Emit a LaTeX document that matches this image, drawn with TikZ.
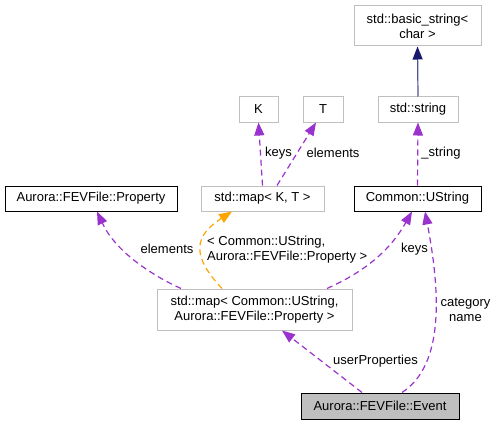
\documentclass[tikz,border=0pt]{standalone}
\usepackage{fontspec}
\setmainfont{Liberation Sans}
\usetikzlibrary{arrows.meta}
\definecolor{boxgray}{HTML}{BFBFBF}
\definecolor{edgepurple}{HTML}{9A32CD}
\definecolor{edgeorange}{HTML}{FFA500}
\definecolor{edgenavy}{HTML}{191970}
\tikzset{
  cls/.style={draw=boxgray, line width=1pt, rectangle, inner sep=0pt, align=center, font=\fontsize{13}{15}\selectfont},
  clsdoc/.style={cls, draw=black},
  clscur/.style={cls, draw=black, fill=boxgray},
  tip/.style={-{Triangle[length=13pt,width=10pt]}},
  usedby/.style={tip, draw=edgepurple, line width=1.2pt, dash pattern=on 6pt off 4pt},
  tmpl/.style={tip, draw=edgeorange, line width=1.2pt, dash pattern=on 6pt off 4pt},
  inherit/.style={-{Triangle[length=13pt,width=10pt,color=edgenavy]}, draw=edgenavy!75!white, line width=1.2pt},
  lbl/.style={inner sep=0pt, align=center, font=\fontsize{13}{15}\selectfont},
}
\begin{document}
\begin{tikzpicture}[x=1pt,y=-1pt]
\useasboundingbox (0,0) rectangle (497,425);
\node[cls, minimum width=127pt, minimum height=40pt] (bs) at (417.5,26) {std::basic\_string<\\char >};
\node[cls, minimum width=39pt, minimum height=25pt] (K) at (258.5,109.5) {K};
\node[cls, minimum width=40pt, minimum height=25pt] (T) at (323,109.5) {T};
\node[cls, minimum width=80pt, minimum height=25pt] (ss) at (418,109.5) {std::string};
\node[clsdoc, minimum width=172pt, minimum height=25pt] (prop) at (91,198.5) {Aurora::FEVFile::Property};
\node[cls, minimum width=123pt, minimum height=25pt] (mkt) at (262.5,198.5) {std::map< K, T >};
\node[clsdoc, minimum width=127pt, minimum height=25pt] (us) at (417.5,198.5) {Common::UString};
\node[cls, minimum width=195pt, minimum height=41pt] (mu) at (254.5,309.5) {std::map< Common::UString,\\Aurora::FEVFile::Property >};
\node[clscur, minimum width=158pt, minimum height=26pt] (ev) at (380,406) {Aurora::FEVFile::Event};

\draw[inherit] (ss.north) -- (bs.south);

\draw[usedby] (mkt.north) -- (K.south);
\draw[usedby] ([xshift=14.5pt]mkt.north) -- ([xshift=-7pt]T.south);
\draw[usedby] (us.north) -- (ss.south);
\draw[usedby] ([xshift=-73.5pt]mu.north) .. controls +(-31,-14) and +(18,39) .. ([xshift=6pt]prop.south);
\draw[tmpl] ([xshift=-32.5pt]mu.north) .. controls +(-32,-34) and +(-37,24) .. ([xshift=-30.5pt]mkt.south);
\draw[usedby] ([xshift=72.5pt]mu.north) .. controls +(38,-17) and +(-22,39) .. ([xshift=-5.5pt]us.south);
\draw[usedby] ([xshift=22pt]ev.north) .. controls +(43,-28) and +(15,79) .. ([xshift=7.5pt]us.south);
\draw[usedby] ([xshift=-18pt]ev.north) -- ([xshift=27.5pt]mu.south);

\node[lbl] (l1) at (278.5,153) {keys};
\node[lbl] (l2) at (333,153) {elements};
\node[lbl] (l3) at (441,153) {\_string};
\node[lbl] (l4) at (167,249) {elements};
\node[lbl, align=left, anchor=west] (l5) at (207,250) {< Common::UString,\\Aurora::FEVFile::Property >};
\node[lbl] (l6) at (414.5,249) {keys};
\node[lbl] (l7) at (465.5,309.5) {category\\name};
\node[lbl] (l8) at (375.5,361) {userProperties};
\end{tikzpicture}
\end{document}
